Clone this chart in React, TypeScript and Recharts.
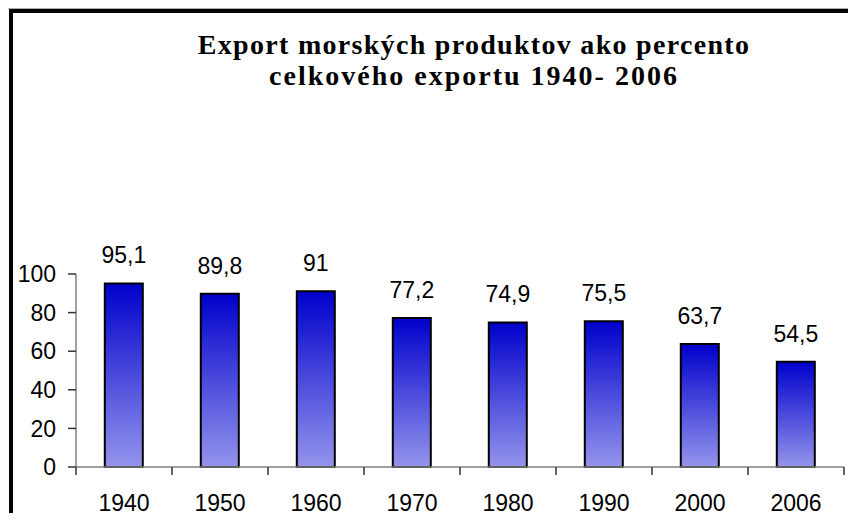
import { BarChart, Bar, XAxis, YAxis, LabelList } from 'recharts';

const years = ['1940', '1950', '1960', '1970', '1980', '1990', '2000', '2006'];
const shares = [95.1, 89.8, 91, 77.2, 74.9, 75.5, 63.7, 54.5];
const yTicks = [0, 20, 40, 60, 80, 100];
const titleLines = ['Export morských produktov ako percento', 'celkového exportu 1940- 2006'];

const data = years.map((year, i) => ({ year, value: shares[i] }));

const font = "Arial, 'Liberation Sans', sans-serif";
const CHART_W = 856;
const CHART_H = 521;
const MARGIN = { top: 274, right: 12, bottom: 0, left: 0 };
const Y_AXIS_W = 76;
const TICK_SIZE = 8;
const TICK_MARGIN = 20;
const PLOT_W = CHART_W - MARGIN.left - MARGIN.right - Y_AXIS_W;

// x-axis tick: label in the middle of the category, tick marks on the category edges
function YearTick(props: any) {
  const { x, y, payload, index, visibleTicksCount, width } = props;
  let half = payload && payload.offset;
  if (!Number.isFinite(half) || !half) {
    half = Number.isFinite(width) && visibleTicksCount ? width / visibleTicksCount / 2 : PLOT_W / years.length / 2;
  }
  const axisY = y - TICK_SIZE - TICK_MARGIN;
  let d = `M${x - half},${axisY}v${TICK_SIZE}`;
  if (index === years.length - 1) d += `M${x + half},${axisY}v${TICK_SIZE}`;
  return (
    <g>
      <path d={d} stroke="#333" strokeWidth={1.5} fill="none" />
      <text x={x} y={y} dy="0.71em" textAnchor="middle" fill="#000" fontSize={23} fontFamily={font}>
        {payload.value}
      </text>
    </g>
  );
}

export default function App() {
  return (
    <div style={{ position: 'relative', width: 856, height: 521, margin: -8, overflow: 'hidden', background: '#fff' }}>
      <div style={{ position: 'absolute', left: 0, top: 8, width: 856, height: 1, background: '#b0b0b0' }} />
      <div style={{ position: 'absolute', left: 9, top: 9, width: 1000, height: 700, border: '4px solid #000' }} />
      <div style={{ position: 'absolute', left: 0, top: 517, width: 856, height: 1, background: '#d8d8d8' }} />

      <div
        style={{
          position: 'absolute',
          left: 0,
          top: 29,
          width: 948,
          textAlign: 'center',
          fontFamily: "'Times New Roman', 'Liberation Serif', serif",
          fontWeight: 'bold',
          fontSize: 28,
          lineHeight: '31px',
          color: '#000',
        }}
      >
        <div style={{ letterSpacing: 1.3 }}>{titleLines[0]}</div>
        <div style={{ letterSpacing: 2 }}>{titleLines[1]}</div>
      </div>

      <div style={{ position: 'absolute', left: 0, top: 0 }}>
        <BarChart width={CHART_W} height={CHART_H} data={data} margin={MARGIN} barCategoryGap="30%">
          <defs>
            <linearGradient id="barFill" x1="0" y1="0" x2="0" y2="1">
              <stop offset="0%" stopColor="#0000cc" />
              <stop offset="100%" stopColor="#9494ec" />
            </linearGradient>
          </defs>
          <XAxis
            dataKey="year"
            height={54}
            interval={0}
            axisLine={{ stroke: '#808080', strokeWidth: 1.5 }}
            tickLine={false}
            tickSize={TICK_SIZE}
            tickMargin={TICK_MARGIN}
            tick={<YearTick />}
          />
          <YAxis
            domain={[0, 100]}
            ticks={yTicks}
            width={Y_AXIS_W}
            tickSize={8}
            tickMargin={12}
            axisLine={{ stroke: '#808080', strokeWidth: 1.5 }}
            tickLine={{ stroke: '#333', strokeWidth: 1.5 }}
            tick={{ fill: '#000', fontSize: 23, fontFamily: font }}
          />
          <Bar dataKey="value" fill="url(#barFill)" stroke="#000" strokeWidth={2} isAnimationActive={false}>
            <LabelList
              dataKey="value"
              position="top"
              offset={20}
              formatter={(v: number) => String(v).replace('.', ',')}
              style={{ fill: '#000', fontSize: 23, fontFamily: font }}
            />
          </Bar>
        </BarChart>
      </div>
    </div>
  );
}
